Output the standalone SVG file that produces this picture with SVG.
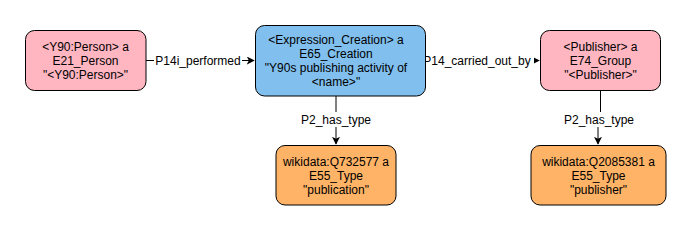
<svg xmlns="http://www.w3.org/2000/svg" width="691" height="231" viewBox="0 0 691 231">
<style>
.n{stroke:#000;stroke-width:1}
.pink{fill:#ffb6c1}
.blue{fill:#80bfee}
.orange{fill:#ffb366}
text{font-family:"Liberation Sans",Arial,sans-serif;font-size:12px;fill:#000;text-anchor:middle}
.e{fill:none;stroke:#000;stroke-width:1}
.lb{fill:#fff}
</style>
<defs>
<marker id="arr" viewBox="0 0 10 10" refX="9" refY="5" markerWidth="8" markerHeight="8" orient="auto" markerUnits="userSpaceOnUse">
<path d="M0,0 L10,5 L0,10 L2.5,5 Z" fill="#000"/>
</marker>
</defs>
<rect width="691" height="231" fill="#fff"/>
<g id="connectors">
<path class="e" d="M146,60.5 H254" marker-end="url(#arr)"/>
<rect class="lb" x="154" y="53" width="88" height="15"/>
<text x="198" y="65">P14i_performed</text>
<path class="e" d="M425.5,60.5 H539" marker-end="url(#arr)"/>
<rect class="lb" x="421" y="53" width="113" height="15"/>
<text x="477" y="65">P14_carried_out_by</text>
<path class="e" d="M336,96 V144" marker-end="url(#arr)"/>
<rect class="lb" x="300" y="112" width="72" height="15"/>
<text x="336" y="124">P2_has_type</text>
<path class="e" d="M600.5,91 V119 H598 V144" marker-end="url(#arr)"/>
<rect class="lb" x="563" y="112" width="72" height="15"/>
<text x="599" y="124">P2_has_type</text>
</g>
<g id="person">
<rect class="n pink" x="25.5" y="30.5" width="120.5" height="60" rx="9"/>
<text x="85.5" y="51">&lt;Y90:Person&gt; a</text>
<text x="85.5" y="65">E21_Person</text>
<text x="85.5" y="79">"&lt;Y90:Person&gt;"</text>
</g>
<g id="creation">
<rect class="n blue" x="255.5" y="25.5" width="170" height="70.5" rx="9"/>
<text x="336" y="44">&lt;Expression_Creation&gt; a</text>
<text x="336" y="58">E65_Creation</text>
<text x="336" y="72">"Y90s publishing activity of</text>
<text x="336" y="86">&lt;name&gt;"</text>
</g>
<g id="publisher">
<rect class="n pink" x="540.5" y="30.5" width="120" height="60" rx="9"/>
<text x="600.5" y="51">&lt;Publisher&gt; a</text>
<text x="600.5" y="65">E74_Group</text>
<text x="600.5" y="79">"&lt;Publisher&gt;"</text>
</g>
<g id="publication">
<rect class="n orange" x="276" y="145.5" width="120" height="59.5" rx="9"/>
<text x="336" y="166">wikidata:Q732577 a</text>
<text x="336" y="180">E55_Type</text>
<text x="336" y="194">"publication"</text>
</g>
<g id="publisher_type">
<rect class="n orange" x="531" y="145.5" width="135" height="59.5" rx="9"/>
<text x="598.5" y="166">wikidata:Q2085381 a</text>
<text x="598.5" y="180">E55_Type</text>
<text x="598.5" y="194">"publisher"</text>
</g>
</svg>
